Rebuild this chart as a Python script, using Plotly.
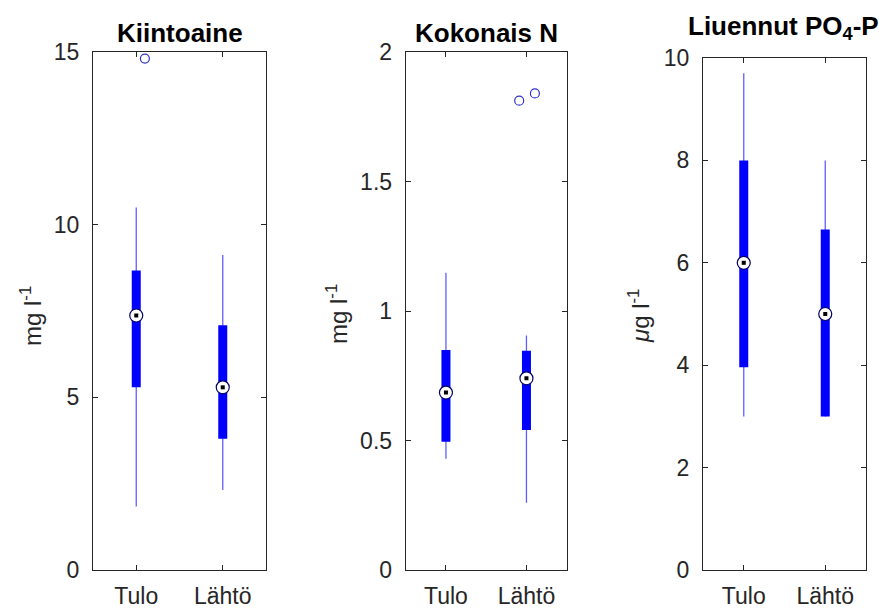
import plotly.graph_objects as go

# ---- data ----
categories = ["Tulo", "Lähtö"]
cat_pos = [1, 2]

titles = ["<b>Kiintoaine</b>", "<b>Kokonais N</b>", "<b>Liuennut PO<sub>4</sub>-P</b>"]
ylabels = ["mg l<sup>-1</sup>", "mg l<sup>-1</sup>", "<i>μ</i>g l<sup>-1</sup>"]

# per panel: [Tulo, Lähtö]
kiinto_lo = [1.84, 2.32]
kiinto_q1 = [5.29, 3.80]
kiinto_med = [7.37, 5.29]
kiinto_q3 = [8.67, 7.09]
kiinto_hi = [10.5, 9.12]
kiinto_out_cat = [1]
kiinto_out_jit = [0.10]
kiinto_out_val = [14.81]

kokn_lo = [0.43, 0.26]
kokn_q1 = [0.495, 0.541]
kokn_med = [0.685, 0.740]
kokn_q3 = [0.849, 0.847]
kokn_hi = [1.148, 0.905]
kokn_out_cat = [2, 2]
kokn_out_jit = [-0.09, 0.105]
kokn_out_val = [1.812, 1.840]

po4_lo = [3.0, 3.0]
po4_q1 = [3.96, 3.0]
po4_med = [6.0, 5.0]
po4_q3 = [8.0, 6.65]
po4_hi = [9.7, 8.0]
po4_out_cat = []
po4_out_jit = []
po4_out_val = []

y_ranges = [[0, 15], [0, 2], [0, 10]]
y_ticks = [[0, 5, 10, 15], [0, 0.5, 1, 1.5, 2], [0, 2, 4, 6, 8, 10]]

panels = [
    (kiinto_lo, kiinto_q1, kiinto_med, kiinto_q3, kiinto_hi, kiinto_out_cat, kiinto_out_jit, kiinto_out_val),
    (kokn_lo, kokn_q1, kokn_med, kokn_q3, kokn_hi, kokn_out_cat, kokn_out_jit, kokn_out_val),
    (po4_lo, po4_q1, po4_med, po4_q3, po4_hi, po4_out_cat, po4_out_jit, po4_out_val),
]

# ---- layout geometry (pixels) ----
W, H = 889, 610
x_dom_px = [(93, 266), (405.7, 566.7), (703, 866)]
y_dom_px = [(52, 570), (52, 570), (58, 570)]
title_px = [(180, 33), (486, 33), (783, 27)]
ylab_px = [(31, 316), (337, 314), (639, 316)]

BLUE = "#0000ff"
WHISK = "rgb(95,95,255)"
AX = "#262626"
FONT = "Liberation Sans, Arial, Helvetica, sans-serif"

fig = go.Figure()

for i, (lo, q1, med, q3, hi, oc, oj, ov) in enumerate(panels):
    xa = "x" if i == 0 else f"x{i+1}"
    ya = "y" if i == 0 else f"y{i+1}"
    for j, c in enumerate(cat_pos):
        fig.add_trace(go.Scatter(x=[c, c], y=[lo[j], hi[j]], mode="lines",
                                 line=dict(color=WHISK, width=1.3),
                                 xaxis=xa, yaxis=ya, showlegend=False, hoverinfo="skip"))
        fig.add_trace(go.Scatter(x=[c, c], y=[q1[j], q3[j]], mode="lines",
                                 line=dict(color=BLUE, width=9),
                                 xaxis=xa, yaxis=ya, showlegend=False, hoverinfo="skip"))
    fig.add_trace(go.Scatter(x=cat_pos, y=med, mode="markers",
                             marker=dict(symbol="circle", size=13, color="white",
                                         line=dict(color="#000060", width=1.2)),
                             xaxis=xa, yaxis=ya, showlegend=False))
    fig.add_trace(go.Scatter(x=cat_pos, y=med, mode="markers",
                             marker=dict(symbol="square", size=4, color="black"),
                             xaxis=xa, yaxis=ya, showlegend=False, hoverinfo="skip"))
    if ov:
        fig.add_trace(go.Scatter(x=[c + d for c, d in zip(oc, oj)], y=ov, mode="markers",
                                 marker=dict(symbol="circle-open", size=9, color="#3030d0",
                                             line=dict(width=1.2)),
                                 xaxis=xa, yaxis=ya, showlegend=False))

layout = dict(
    width=W, height=H,
    margin=dict(l=0, r=0, t=0, b=0, autoexpand=False),
    paper_bgcolor="white", plot_bgcolor="white",
    font=dict(family=FONT, color=AX),
    annotations=[],
)

for i in range(3):
    xk = "xaxis" if i == 0 else f"xaxis{i+1}"
    yk = "yaxis" if i == 0 else f"yaxis{i+1}"
    x0, x1 = x_dom_px[i]
    yt, yb = y_dom_px[i]
    layout[xk] = dict(
        domain=[x0 / W, x1 / W], range=[0.5, 2.5],
        tickvals=cat_pos, ticktext=categories,
        showline=True, linecolor=AX, linewidth=1, mirror="ticks",
        ticks="inside", ticklen=5, tickcolor=AX, showgrid=False, zeroline=False,
        tickfont=dict(family=FONT, size=23, color=AX), ticklabelstandoff=5,
        anchor="y" if i == 0 else f"y{i+1}", fixedrange=True, automargin=False,
    )
    layout[yk] = dict(
        domain=[1 - yb / H, 1 - yt / H], range=y_ranges[i],
        tickvals=y_ticks[i],
        showline=True, linecolor=AX, linewidth=1, mirror="ticks",
        ticks="inside", ticklen=5, tickcolor=AX, showgrid=False, zeroline=False,
        tickfont=dict(family=FONT, size=23, color=AX), ticklabelstandoff=8,
        anchor="x" if i == 0 else f"x{i+1}", fixedrange=True, automargin=False,
    )
    tx, ty = title_px[i]
    layout["annotations"].append(dict(
        text=titles[i], x=tx / W, y=1 - ty / H, xref="paper", yref="paper",
        xanchor="center", yanchor="middle", showarrow=False,
        font=dict(family=FONT, size=26, color="black")))
    lx, ly = ylab_px[i]
    layout["annotations"].append(dict(
        text=ylabels[i], x=lx / W, y=1 - ly / H, xref="paper", yref="paper",
        xanchor="center", yanchor="middle", showarrow=False, textangle=-90,
        font=dict(family=FONT, size=24, color=AX)))

fig.update_layout(**layout)
fig.write_html("out.html", config={"displayModeBar": False},
               post_script="document.body.style.margin='0';document.body.style.overflow='hidden';")
